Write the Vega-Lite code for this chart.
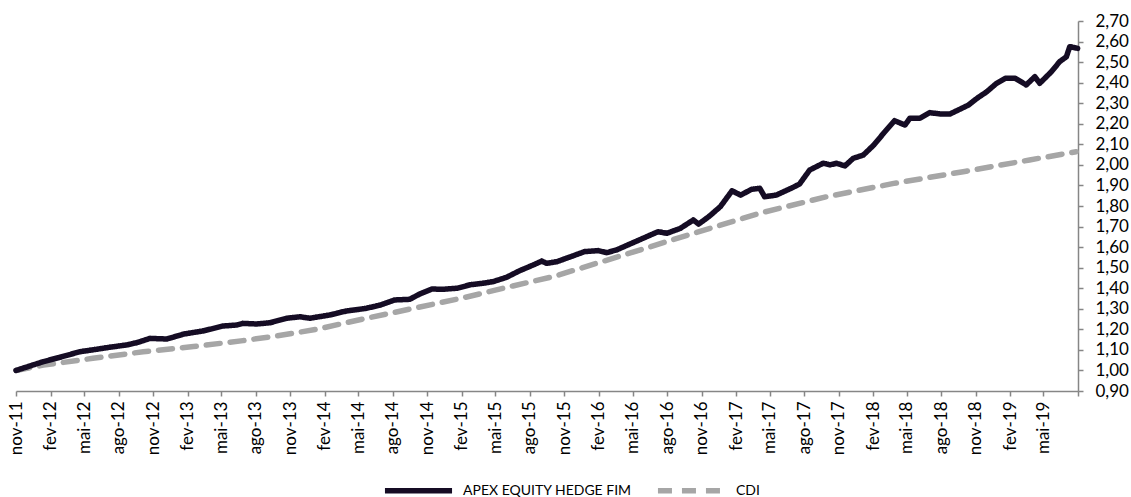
{
  "$schema": "https://vega.github.io/schema/vega-lite/v6.json",
  "width": 1062,
  "height": 370,
  "autosize": "none",
  "padding": {"left": 16, "top": 21, "right": 53, "bottom": 106},
  "background": "white",
  "config": {"view": {"stroke": null}, "font": "Lato"},
  "datasets": {
    "fund": [
      {"date": "2011-11-01", "v": 1.000}, {"date": "2012-01-13", "v": 1.043}, {"date": "2012-02-26", "v": 1.064},
      {"date": "2012-04-19", "v": 1.091}, {"date": "2012-06-03", "v": 1.103}, {"date": "2012-07-08", "v": 1.113},
      {"date": "2012-08-22", "v": 1.124}, {"date": "2012-09-18", "v": 1.135}, {"date": "2012-10-23", "v": 1.156},
      {"date": "2012-12-07", "v": 1.153}, {"date": "2013-01-21", "v": 1.177}, {"date": "2013-03-13", "v": 1.192},
      {"date": "2013-05-05", "v": 1.216}, {"date": "2013-06-11", "v": 1.221}, {"date": "2013-06-28", "v": 1.229},
      {"date": "2013-08-03", "v": 1.226}, {"date": "2013-09-08", "v": 1.232}, {"date": "2013-10-22", "v": 1.254},
      {"date": "2013-11-27", "v": 1.261}, {"date": "2013-12-23", "v": 1.254}, {"date": "2014-02-15", "v": 1.270},
      {"date": "2014-03-30", "v": 1.289}, {"date": "2014-05-22", "v": 1.302}, {"date": "2014-06-27", "v": 1.317},
      {"date": "2014-08-06", "v": 1.343}, {"date": "2014-09-15", "v": 1.346}, {"date": "2014-10-12", "v": 1.372},
      {"date": "2014-11-13", "v": 1.396}, {"date": "2014-12-14", "v": 1.395}, {"date": "2015-01-19", "v": 1.400},
      {"date": "2015-02-24", "v": 1.417}, {"date": "2015-03-29", "v": 1.424}, {"date": "2015-04-25", "v": 1.432},
      {"date": "2015-05-31", "v": 1.453}, {"date": "2015-07-05", "v": 1.485}, {"date": "2015-08-10", "v": 1.513},
      {"date": "2015-09-02", "v": 1.532}, {"date": "2015-09-15", "v": 1.521}, {"date": "2015-10-12", "v": 1.529},
      {"date": "2015-11-16", "v": 1.552}, {"date": "2015-12-25", "v": 1.578}, {"date": "2016-01-31", "v": 1.583},
      {"date": "2016-02-22", "v": 1.573}, {"date": "2016-03-19", "v": 1.586}, {"date": "2016-04-24", "v": 1.615},
      {"date": "2016-05-29", "v": 1.643}, {"date": "2016-07-08", "v": 1.675}, {"date": "2016-07-31", "v": 1.667},
      {"date": "2016-09-05", "v": 1.691}, {"date": "2016-10-10", "v": 1.732}, {"date": "2016-10-24", "v": 1.712},
      {"date": "2016-11-20", "v": 1.748}, {"date": "2016-12-21", "v": 1.797}, {"date": "2017-01-21", "v": 1.874},
      {"date": "2017-02-13", "v": 1.853}, {"date": "2017-03-14", "v": 1.881}, {"date": "2017-04-05", "v": 1.886},
      {"date": "2017-04-18", "v": 1.845}, {"date": "2017-05-19", "v": 1.853}, {"date": "2017-07-03", "v": 1.891},
      {"date": "2017-07-20", "v": 1.907}, {"date": "2017-08-16", "v": 1.975}, {"date": "2017-09-21", "v": 2.008},
      {"date": "2017-10-09", "v": 2.000}, {"date": "2017-10-27", "v": 2.008}, {"date": "2017-11-18", "v": 1.995},
      {"date": "2017-12-10", "v": 2.032}, {"date": "2018-01-06", "v": 2.048}, {"date": "2018-02-03", "v": 2.097},
      {"date": "2018-03-01", "v": 2.154}, {"date": "2018-03-30", "v": 2.215}, {"date": "2018-04-27", "v": 2.194},
      {"date": "2018-05-10", "v": 2.227}, {"date": "2018-06-06", "v": 2.227}, {"date": "2018-07-02", "v": 2.254},
      {"date": "2018-07-29", "v": 2.248}, {"date": "2018-08-25", "v": 2.248}, {"date": "2018-09-16", "v": 2.267},
      {"date": "2018-10-13", "v": 2.291}, {"date": "2018-11-05", "v": 2.324}, {"date": "2018-12-01", "v": 2.356},
      {"date": "2018-12-27", "v": 2.397}, {"date": "2019-01-19", "v": 2.421}, {"date": "2019-02-15", "v": 2.421},
      {"date": "2019-03-16", "v": 2.389}, {"date": "2019-04-08", "v": 2.429}, {"date": "2019-04-21", "v": 2.397},
      {"date": "2019-05-22", "v": 2.453}, {"date": "2019-06-13", "v": 2.502}, {"date": "2019-07-01", "v": 2.526},
      {"date": "2019-07-10", "v": 2.575}, {"date": "2019-07-31", "v": 2.567}
    ],
    "cdi": [
      {"date": "2011-11-01", "v": 1.000}, {"date": "2012-01-13", "v": 1.026}, {"date": "2012-05-24", "v": 1.059},
      {"date": "2012-10-05", "v": 1.091}, {"date": "2013-02-16", "v": 1.116}, {"date": "2013-06-28", "v": 1.145},
      {"date": "2013-09-26", "v": 1.168}, {"date": "2014-01-10", "v": 1.200}, {"date": "2014-05-13", "v": 1.250},
      {"date": "2014-09-25", "v": 1.302}, {"date": "2015-02-06", "v": 1.354}, {"date": "2015-06-17", "v": 1.411},
      {"date": "2015-10-02", "v": 1.456}, {"date": "2016-04-15", "v": 1.566}, {"date": "2016-10-10", "v": 1.667},
      {"date": "2017-04-05", "v": 1.765}, {"date": "2017-09-30", "v": 1.845}, {"date": "2018-03-28", "v": 1.910},
      {"date": "2018-09-29", "v": 1.967}, {"date": "2019-03-25", "v": 2.024}, {"date": "2019-07-27", "v": 2.064}
    ]
  },
  "encoding": {
    "x": {
      "field": "date",
      "type": "temporal",
      "scale": {
        "type": "utc",
        "domain": [
          {"year": 2011, "month": 11, "date": 1, "utc": true},
          {"year": 2019, "month": 8, "date": 1, "utc": true}
        ]
      },
      "axis": {
        "title": null,
        "grid": false,
        "values": [
          {"year": 2011, "month": 11, "date": 1, "utc": true},
          {"year": 2012, "month": 2, "date": 1, "utc": true},
          {"year": 2012, "month": 5, "date": 1, "utc": true},
          {"year": 2012, "month": 8, "date": 1, "utc": true},
          {"year": 2012, "month": 11, "date": 1, "utc": true},
          {"year": 2013, "month": 2, "date": 1, "utc": true},
          {"year": 2013, "month": 5, "date": 1, "utc": true},
          {"year": 2013, "month": 8, "date": 1, "utc": true},
          {"year": 2013, "month": 11, "date": 1, "utc": true},
          {"year": 2014, "month": 2, "date": 1, "utc": true},
          {"year": 2014, "month": 5, "date": 1, "utc": true},
          {"year": 2014, "month": 8, "date": 1, "utc": true},
          {"year": 2014, "month": 11, "date": 1, "utc": true},
          {"year": 2015, "month": 2, "date": 1, "utc": true},
          {"year": 2015, "month": 5, "date": 1, "utc": true},
          {"year": 2015, "month": 8, "date": 1, "utc": true},
          {"year": 2015, "month": 11, "date": 1, "utc": true},
          {"year": 2016, "month": 2, "date": 1, "utc": true},
          {"year": 2016, "month": 5, "date": 1, "utc": true},
          {"year": 2016, "month": 8, "date": 1, "utc": true},
          {"year": 2016, "month": 11, "date": 1, "utc": true},
          {"year": 2017, "month": 2, "date": 1, "utc": true},
          {"year": 2017, "month": 5, "date": 1, "utc": true},
          {"year": 2017, "month": 8, "date": 1, "utc": true},
          {"year": 2017, "month": 11, "date": 1, "utc": true},
          {"year": 2018, "month": 2, "date": 1, "utc": true},
          {"year": 2018, "month": 5, "date": 1, "utc": true},
          {"year": 2018, "month": 8, "date": 1, "utc": true},
          {"year": 2018, "month": 11, "date": 1, "utc": true},
          {"year": 2019, "month": 2, "date": 1, "utc": true},
          {"year": 2019, "month": 5, "date": 1, "utc": true},
          {"year": 2019, "month": 8, "date": 1, "utc": true}
        ],
        "labelExpr": "utcyear(datum.value) == 2019 && utcmonth(datum.value) == 7 ? '' : ['jan','fev','mar','abr','mai','jun','jul','ago','set','out','nov','dez'][utcmonth(datum.value)] + '-' + utcFormat(datum.value, '%y')",
        "labelAngle": 270,
        "labelFont": "Lato",
        "labelFontSize": 17,
        "labelColor": "#000000",
        "labelPadding": 5,
        "labelOverlap": false,
        "labelFlush": false,
        "domainColor": "#868686",
        "domainWidth": 1.5,
        "tickColor": "#868686",
        "tickWidth": 1.5,
        "tickSize": 5
      }
    },
    "y": {
      "field": "v",
      "type": "quantitative",
      "scale": {"domain": [0.9, 2.7], "zero": false, "nice": false},
      "axis": {
        "orient": "right",
        "title": null,
        "grid": false,
        "values": [0.9, 1.0, 1.1, 1.2, 1.3, 1.4, 1.5, 1.6, 1.7, 1.8, 1.9, 2.0, 2.1, 2.2, 2.3, 2.4, 2.5, 2.6, 2.7],
        "labelExpr": "replace(format(datum.value, '.2f'), '.', ',')",
        "labelFont": "Lato",
        "labelFontSize": 17,
        "labelColor": "#000000",
        "labelPadding": 12,
        "labelOverlap": false,
        "labelFlush": false,
        "domainColor": "#868686",
        "domainWidth": 1.5,
        "tickColor": "#868686",
        "tickWidth": 1.5,
        "tickSize": 5
      }
    },
    "color": {
      "field": "serie",
      "type": "nominal",
      "scale": {"domain": ["APEX EQUITY HEDGE FIM", "CDI"], "range": ["#150C24", "#A6A6A6"]},
      "legend": {
        "title": null,
        "orient": "none",
        "direction": "horizontal",
        "legendX": 366,
        "legendY": 433,
        "symbolType": "stroke",
        "symbolSize": 4500,
        "symbolStrokeWidth": 5.5,
        "labelFont": "Lato",
        "labelFontSize": 14,
        "labelLimit": 400,
        "labelColor": "#000000",
        "labelOffset": 8,
        "columnPadding": 14
      }
    },
    "strokeDash": {
      "field": "serie",
      "type": "nominal",
      "scale": {"domain": ["APEX EQUITY HEDGE FIM", "CDI"], "range": [[1, 0], [14, 10]]},
      "legend": {
        "title": null,
        "orient": "none",
        "direction": "horizontal",
        "legendX": 366,
        "legendY": 433,
        "symbolType": "stroke",
        "symbolSize": 4500,
        "symbolStrokeWidth": 5.5,
        "labelFont": "Lato",
        "labelFontSize": 14,
        "labelLimit": 400,
        "labelColor": "#000000",
        "labelOffset": 8,
        "columnPadding": 14
      }
    }
  },
  "layer": [
    {
      "data": {"name": "cdi"},
      "transform": [{"calculate": "'CDI'", "as": "serie"}],
      "mark": {"type": "line", "strokeWidth": 5.5, "strokeCap": "round", "strokeJoin": "round"}
    },
    {
      "data": {"name": "fund"},
      "transform": [{"calculate": "'APEX EQUITY HEDGE FIM'", "as": "serie"}],
      "mark": {"type": "line", "strokeWidth": 5.5, "strokeCap": "round", "strokeJoin": "round"}
    }
  ]
}
